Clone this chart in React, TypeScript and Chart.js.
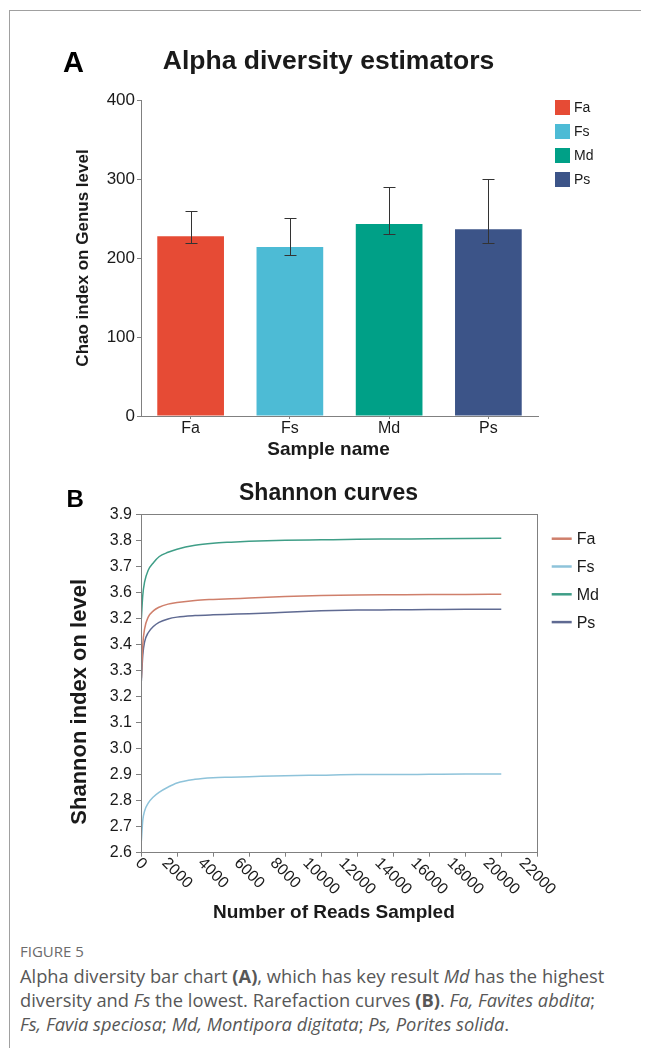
import React, { useEffect, useRef } from "react";
import { Chart, registerables } from "chart.js";

Chart.register(...registerables);

const FONT = "'Liberation Sans', Arial, Helvetica, sans-serif";

// ---------- Panel A data ----------
const samples = ["Fa", "Fs", "Md", "Ps"];
const sampleColors = ["#E64B35", "#4DBBD5", "#00A087", "#3C5488"];
const chaoMean = [227.5, 214, 243, 236.5];
const chaoUpper = [259, 251, 290.5, 300.5];
const chaoLower = [219, 204, 230, 219];

// ---------- Panel B data ----------
const readsSampled = [20, 100, 200, 400, 700, 1000, 1500, 2000, 3000, 4000, 5000, 6000, 8000, 10000, 12000, 14000, 16000, 18000, 20000];
const shannonFa = [3.27, 3.40, 3.46, 3.505, 3.53, 3.543, 3.555, 3.561, 3.569, 3.573, 3.576, 3.578, 3.584, 3.588, 3.590, 3.591, 3.592, 3.592, 3.593];
const shannonFs = [2.645, 2.725, 2.76, 2.79, 2.815, 2.832, 2.852, 2.868, 2.882, 2.888, 2.890, 2.892, 2.896, 2.898, 2.900, 2.900, 2.901, 2.902, 2.902];
const shannonMd = [3.50, 3.59, 3.64, 3.685, 3.715, 3.737, 3.754, 3.766, 3.781, 3.789, 3.793, 3.796, 3.800, 3.802, 3.804, 3.805, 3.806, 3.807, 3.808];
const shannonPs = [3.26, 3.36, 3.41, 3.445, 3.47, 3.485, 3.498, 3.505, 3.511, 3.514, 3.516, 3.518, 3.524, 3.529, 3.532, 3.533, 3.534, 3.535, 3.535];
const curveNames = ["Fa", "Fs", "Md", "Ps"];
const curveColors = ["#cf7f6b", "#8ec3da", "#3f9e87", "#5f6a92"];
const shannonTickLabels = ["2.6", "2.7", "2.8", "2.9", "3.0", "3.1", "3.2", "3.3", "3.4", "3.2", "3.6", "3.7", "3.8", "3.9"];

const AXIS = "#808080";
const TEXT = "#1a1a1a";

const errorBarPlugin = {
  id: "errorBars",
  afterDatasetsDraw(chart: any) {
    const ctx = chart.ctx;
    const meta = chart.getDatasetMeta(0);
    const ys = chart.scales.y;
    ctx.save();
    ctx.strokeStyle = "#333";
    ctx.lineWidth = 1;
    meta.data.forEach((el: any, i: number) => {
      const x = Math.round(el.x) + 0.5;
      const yt = Math.round(ys.getPixelForValue(chaoUpper[i])) + 0.5;
      const yb = Math.round(ys.getPixelForValue(chaoLower[i])) + 0.5;
      ctx.beginPath();
      ctx.moveTo(x, yt);
      ctx.lineTo(x, yb);
      ctx.moveTo(x - 6, yt);
      ctx.lineTo(x + 6, yt);
      ctx.moveTo(x - 6, yb);
      ctx.lineTo(x + 6, yb);
      ctx.stroke();
    });
    ctx.restore();
  },
};

const legendAPlugin = {
  id: "legendA",
  afterDraw(chart: any) {
    const ctx = chart.ctx;
    const a = chart.chartArea;
    ctx.save();
    ctx.font = `14px ${FONT}`;
    ctx.textBaseline = "middle";
    ctx.textAlign = "left";
    samples.forEach((s, i) => {
      const y = a.top + i * 24;
      ctx.fillStyle = sampleColors[i];
      ctx.fillRect(a.right + 17, y, 15, 15);
      ctx.fillStyle = TEXT;
      ctx.fillText(s, a.right + 36, y + 8);
    });
    ctx.font = `bold 29px ${FONT}`;
    ctx.textBaseline = "alphabetic";
    ctx.fillStyle = "#000";
    ctx.fillText("A", 55, 52);
    ctx.restore();
  },
};

const decorBPlugin = {
  id: "decorB",
  afterDraw(chart: any) {
    const ctx = chart.ctx;
    const a = chart.chartArea;
    ctx.save();
    // frame around plot area
    ctx.strokeStyle = AXIS;
    ctx.lineWidth = 1;
    ctx.strokeRect(Math.round(a.left) + 0.5, Math.round(a.top) + 0.5, Math.round(a.right - a.left), Math.round(a.bottom - a.top));
    // rotated x tick labels
    const xs = chart.scales.x;
    ctx.font = `16px ${FONT}`;
    ctx.fillStyle = TEXT;
    ctx.textAlign = "center";
    ctx.textBaseline = "middle";
    xs.ticks.forEach((t: any) => {
      const label = String(t.label);
      const px = xs.getPixelForValue(t.value);
      const w = ctx.measureText(label).width;
      ctx.save();
      ctx.translate(px, a.bottom + 8 + w * 0.354);
      ctx.rotate(Math.PI / 4);
      ctx.fillText(label, 0, 0);
      ctx.restore();
    });
    // legend
    ctx.textAlign = "left";
    ctx.font = `16px ${FONT}`;
    curveNames.forEach((n, i) => {
      const y = a.top + 24.4 + i * 27.8;
      ctx.strokeStyle = curveColors[i];
      ctx.lineWidth = 2.5;
      ctx.beginPath();
      ctx.moveTo(a.right + 14.4, y);
      ctx.lineTo(a.right + 34.4, y);
      ctx.stroke();
      ctx.fillStyle = TEXT;
      ctx.fillText(n, a.right + 39.4, y + 1);
    });
    // panel letter
    ctx.font = `bold 24px ${FONT}`;
    ctx.textBaseline = "alphabetic";
    ctx.fillStyle = "#000";
    ctx.fillText("B", 58.5, 35);
    ctx.restore();
  },
};

export default function App() {
  const refA = useRef<HTMLCanvasElement | null>(null);
  const refB = useRef<HTMLCanvasElement | null>(null);

  useEffect(() => {
    const chartA = new Chart(refA.current as HTMLCanvasElement, {
      type: "bar",
      data: {
        labels: samples,
        datasets: [
          {
            data: chaoMean,
            backgroundColor: sampleColors,
            borderWidth: 0,
            barPercentage: 0.672,
            categoryPercentage: 1,
            yAxisID: "y",
          },
        ],
      },
      options: {
        animation: false,
        responsive: false,
        devicePixelRatio: 1,
        layout: { padding: 0 },
        plugins: {
          legend: { display: false },
          tooltip: { enabled: false },
          title: {
            display: true,
            text: "Alpha diversity estimators",
            color: TEXT,
            font: { family: FONT, size: 26.5, weight: "bold" },
            padding: { top: 26, bottom: 22.2 },
          },
          subtitle: {
            display: true,
            position: "bottom",
            text: "Sample name",
            color: TEXT,
            font: { family: FONT, size: 19, weight: "bold" },
            padding: { top: 0, bottom: 8.6 },
          },
        },
        scales: {
          x: {
            offset: true,
            grid: { display: true, drawOnChartArea: false, drawTicks: true, tickLength: 3, color: AXIS, offset: false },
            border: { display: true, color: AXIS, width: 1 },
            ticks: { color: TEXT, font: { family: FONT, size: 16 }, padding: 0, maxRotation: 0 },
            afterFit: (s: any) => {
              s.height = 22.6;
            },
          },
          y: {
            min: 0,
            max: 400,
            ticks: { stepSize: 100, color: TEXT, font: { family: FONT, size: 17 }, padding: 2 },
            grid: { drawOnChartArea: false, tickLength: 4, color: AXIS },
            border: { color: AXIS, width: 1 },
            title: {
              display: true,
              text: "Chao index on Genus level",
              color: TEXT,
              font: { family: FONT, size: 17, weight: "bold" },
              padding: { top: 64.8, bottom: 0 },
            },
            afterFit: (s: any) => {
              s.width = 133;
            },
          },
          yR: {
            position: "right",
            display: true,
            grid: { display: false },
            border: { display: false },
            ticks: { display: false },
            afterFit: (s: any) => {
              s.width = 111;
            },
          },
        },
      } as any,
      plugins: [errorBarPlugin, legendAPlugin],
    });

    const series = [shannonFa, shannonFs, shannonMd, shannonPs];
    const chartB = new Chart(refB.current as HTMLCanvasElement, {
      type: "line",
      data: {
        datasets: series.map((vals, k) => ({
          label: curveNames[k],
          data: readsSampled.map((r, i) => ({ x: r, y: vals[i] })),
          borderColor: curveColors[k],
          borderWidth: 1.5,
          pointRadius: 0,
          fill: false,
          cubicInterpolationMode: "monotone",
          yAxisID: "y",
        })),
      },
      options: {
        animation: false,
        responsive: false,
        devicePixelRatio: 1,
        layout: { padding: 0 },
        plugins: {
          legend: { display: false },
          tooltip: { enabled: false },
          title: {
            display: true,
            text: "Shannon curves",
            color: TEXT,
            font: { family: FONT, size: 23, weight: "bold" },
            padding: { top: 7.8, bottom: 6.9 },
          },
        },
        scales: {
          x: {
            type: "linear",
            min: 0,
            max: 22000,
            ticks: {
              stepSize: 2000,
              autoSkip: false,
              maxRotation: 0,
              color: "rgba(0,0,0,0)",
              font: { family: FONT, size: 16 },
              callback: (v: any) => String(v),
            },
            grid: { drawOnChartArea: false, tickLength: 4, color: AXIS },
            border: { color: AXIS, width: 1 },
            title: {
              display: true,
              text: "Number of Reads Sampled  ",
              color: TEXT,
              font: { family: FONT, size: 19, weight: "bold" },
              padding: { top: 0, bottom: 8 },
            },
            afterFit: (s: any) => {
              s.height = 79.3;
            },
          },
          y: {
            min: 2.6,
            max: 3.9,
            ticks: {
              stepSize: 0.1,
              color: TEXT,
              font: { family: FONT, size: 16 },
              padding: 4,
              callback: (v: any) => shannonTickLabels[Math.round((Number(v) - 2.6) * 10)],
            },
            grid: { drawOnChartArea: false, tickLength: 5, color: AXIS },
            border: { color: AXIS, width: 1 },
            title: {
              display: true,
              text: "Shannon index on level      ",
              color: TEXT,
              font: { family: FONT, size: 22, weight: "bold" },
              padding: { top: 58.8, bottom: 0 },
            },
            afterFit: (s: any) => {
              s.width = 133;
            },
          },
          yR: {
            position: "right",
            display: true,
            grid: { display: false },
            border: { display: false },
            ticks: { display: false },
            afterFit: (s: any) => {
              s.width = 111.7;
            },
          },
        },
      } as any,
      plugins: [decorBPlugin],
    });

    return () => {
      chartA.destroy();
      chartB.destroy();
    };
  }, []);

  return (
    <div style={{ position: "relative", width: 641, height: 1040, overflow: "hidden" }}>
      <div
        style={{
          position: "absolute",
          left: 1,
          top: 2,
          width: 700,
          height: 1200,
          borderTop: "1px solid #a0a0a0",
          borderLeft: "1px solid #a0a0a0",
        }}
      />
      <canvas ref={refA} width={641} height={450} style={{ position: "absolute", left: 0, top: 12, display: "block" }} />
      <canvas ref={refB} width={641} height={460} style={{ position: "absolute", left: 0, top: 464, display: "block" }} />
      <div
        style={{
          position: "absolute",
          left: 12,
          top: 931,
          fontFamily: "'Open Sans', sans-serif",
          fontSize: 15,
          lineHeight: "24px",
          color: "#6b6b6b",
        }}
      >
        FIGURE 5
      </div>
      <div
        style={{
          position: "absolute",
          left: 12,
          top: 956,
          width: 625,
          fontFamily: "'Open Sans', sans-serif",
          fontSize: 18.3,
          lineHeight: "24px",
          color: "#575757",
          whiteSpace: "nowrap",
        }}
      >
        Alpha diversity bar chart <b>(A)</b>, which has key result <i>Md</i> has the highest
        <br />
        diversity and <i>Fs</i> the lowest. Rarefaction curves <b>(B)</b>. <i>Fa, Favites abdita</i>;
        <br />
        <i>Fs, Favia speciosa</i>; <i>Md, Montipora digitata</i>; <i>Ps, Porites solida</i>.
      </div>
    </div>
  );
}
